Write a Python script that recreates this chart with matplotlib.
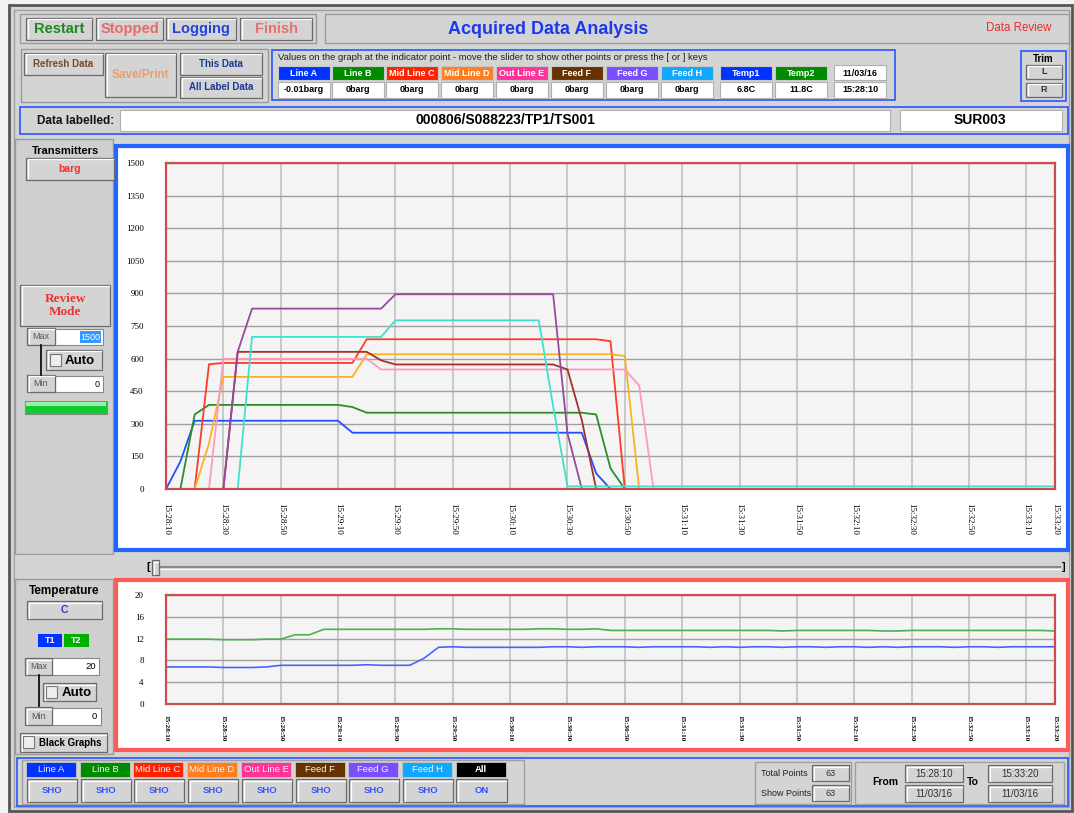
import numpy as np
import matplotlib
matplotlib.use('Agg')
import matplotlib.pyplot as plt
from matplotlib.patches import Rectangle

plt.rcParams['font.family'] = ['Liberation Sans', 'DejaVu Sans']

# ---- data (63 samples, one every 5 s from 15:28:10 to 15:33:20), 10 per row
secs = np.arange(0, 315, 5)

line_a = [0, 126, 314, 314, 314, 314, 314, 314, 314, 314,
          314, 314, 314, 259, 259, 259, 259, 259, 259, 259,
          259, 259, 259, 259, 259, 259, 259, 259, 259, 259,
          72, 0, 0, 0, 0, 0, 0, 0, 0, 0,
          0, 0, 0, 0, 0, 0, 0, 0, 0, 0,
          0, 0, 0, 0, 0, 0, 0, 0, 0, 0,
          0, 0, 0]
line_b = [0, 0, 343, 387, 387, 387, 387, 387, 387, 387,
          387, 387, 387, 377, 351, 351, 351, 351, 351, 351,
          351, 351, 351, 351, 351, 351, 351, 351, 351, 351,
          343, 95, 0, 0, 0, 0, 0, 0, 0, 0,
          0, 0, 0, 0, 0, 0, 0, 0, 0, 0,
          0, 0, 0, 0, 0, 0, 0, 0, 0, 0,
          0, 0, 0]
mid_c = [0, 0, 0, 574, 580, 580, 580, 580, 580, 580,
         580, 580, 580, 580, 689, 689, 689, 689, 689, 689,
         689, 689, 689, 689, 689, 689, 689, 689, 689, 689,
         689, 680, 0, 0, 0, 0, 0, 0, 0, 0,
         0, 0, 0, 0, 0, 0, 0, 0, 0, 0,
         0, 0, 0, 0, 0, 0, 0, 0, 0, 0,
         0, 0, 0]
mid_d = [0, 0, 0, 210, 516, 516, 516, 516, 516, 516,
         516, 516, 516, 516, 620, 620, 620, 620, 620, 620,
         620, 620, 620, 620, 620, 620, 620, 620, 620, 620,
         620, 620, 612, 0, 0, 0, 0, 0, 0, 0,
         0, 0, 0, 0, 0, 0, 0, 0, 0, 0,
         0, 0, 0, 0, 0, 0, 0, 0, 0, 0,
         0, 0, 0]
out_e = [0, 0, 0, 0, 599, 599, 599, 599, 599, 599,
         599, 599, 599, 599, 599, 550, 550, 550, 550, 550,
         550, 550, 550, 550, 550, 550, 550, 550, 550, 550,
         550, 550, 550, 476, 0, 0, 0, 0, 0, 0,
         0, 0, 0, 0, 0, 0, 0, 0, 0, 0,
         0, 0, 0, 0, 0, 0, 0, 0, 0, 0,
         0, 0, 0]
feed_f = [0, 0, 0, 0, 0, 631, 631, 631, 631, 631,
          631, 631, 631, 631, 631, 592, 573, 573, 573, 573,
          573, 573, 573, 573, 573, 573, 573, 573, 550, 317,
          0, 0, 0, 0, 0, 0, 0, 0, 0, 0,
          0, 0, 0, 0, 0, 0, 0, 0, 0, 0,
          0, 0, 0, 0, 0, 0, 0, 0, 0, 0,
          0, 0, 0]
feed_g = [0, 0, 0, 0, 0, 631, 830, 830, 830, 830,
          830, 830, 830, 830, 830, 830, 896, 896, 896, 896,
          896, 896, 896, 896, 896, 896, 896, 896, 256, 0,
          0, 0, 0, 0, 0, 0, 0, 0, 0, 0,
          0, 0, 0, 0, 0, 0, 0, 0, 0, 0,
          0, 0, 0, 0, 0, 0, 0, 0, 0, 0,
          0, 0, 0]
feed_h = [0, 0, 0, 0, 0, 0, 700, 700, 700, 700,
          700, 700, 700, 700, 700, 700, 776, 776, 776, 776,
          776, 776, 776, 776, 776, 776, 776, 380, 12, 12,
          12, 12, 12, 12, 12, 12, 12, 12, 12, 12,
          12, 12, 12, 12, 12, 12, 12, 12, 12, 12,
          12, 12, 12, 12, 12, 12, 12, 12, 12, 12,
          12, 12, 12]

temp1 = [6.8, 6.8, 6.8, 6.8, 6.7, 6.7, 6.7, 6.8, 7.1, 7.1,
         7.1, 7.1, 7.1, 7.1, 7.2, 7.1, 7.1, 7.1, 8.4, 10.4,
         10.5, 10.4, 10.4, 10.4, 10.4, 10.4, 10.4, 10.5, 10.5, 10.4,
         10.5, 10.5, 10.5, 10.4, 10.5, 10.5, 10.5, 10.5, 10.4, 10.5,
         10.4, 10.5, 10.5, 10.4, 10.5, 10.5, 10.4, 10.5, 10.5, 10.4,
         10.5, 10.4, 10.5, 10.5, 10.5, 10.4, 10.5, 10.5, 10.4, 10.5,
         10.5, 10.5, 10.5]
temp2 = [11.9, 11.9, 11.9, 11.9, 11.8, 11.8, 11.8, 11.9, 11.9, 12.7,
         12.7, 13.7, 13.7, 13.7, 13.7, 13.7, 13.7, 13.7, 13.7, 13.8,
         13.8, 13.7, 13.7, 13.7, 13.7, 13.7, 13.8, 13.8, 13.7, 13.7,
         13.8, 13.5, 13.5, 13.5, 13.5, 13.5, 13.5, 13.5, 13.5, 13.5,
         13.5, 13.5, 13.5, 13.4, 13.5, 13.5, 13.5, 13.5, 13.5, 13.5,
         13.4, 13.4, 13.5, 13.5, 13.5, 13.5, 13.5, 13.5, 13.5, 13.5,
         13.5, 13.5, 13.4]

series_names = ['Line A', 'Line B', 'Mid Line C', 'Mid Line D', 'Out Line E', 'Feed F', 'Feed G', 'Feed H']
series = [line_a, line_b, mid_c, mid_d, out_e, feed_f, feed_g, feed_h]
line_colors = ['#2050ff', '#2e8b2e', '#ff3a2a', '#ffb020', '#ff99c0', '#a8302c', '#964a9c', '#40e0d0']
tag_colors = ['#0033ff', '#008a00', '#ff2200', '#ff7f20', '#ff3399', '#663300', '#7a4dff', '#10a8ff']
readings = ['-0.01barg', '0barg', '0barg', '0barg', '0barg', '0barg', '0barg', '0barg']

tick_labels = ['15:28:10', '15:28:30', '15:28:50', '15:29:10', '15:29:30', '15:29:50', '15:30:10',
               '15:30:30', '15:30:50', '15:31:10', '15:31:30', '15:31:50', '15:32:10', '15:32:30',
               '15:32:50', '15:33:10', '15:33:20']
tick_secs = [0, 20, 40, 60, 80, 100, 120, 140, 160, 180, 200, 220, 240, 260, 280, 300, 310]
main_yticks = [0, 150, 300, 450, 600, 750, 900, 1050, 1200, 1350, 1500]
temp_yticks = [0, 4, 8, 12, 16, 20]

W, H = 1074, 813
fig = plt.figure(figsize=(W / 100, H / 100), dpi=100)
fig.patch.set_facecolor('#f2f2f2')

ui = fig.add_axes([0, 0, 1, 1])
ui.set_xlim(0, W)
ui.set_ylim(H, 0)
ui.axis('off')

GREY = '#d4d4d4'


def box(x0, y0, x1, y1, fc=GREY, ec='#8a8a8a', lw=1.0, z=1):
    ui.add_patch(Rectangle((x0, y0), x1 - x0, y1 - y0, facecolor=fc, edgecolor=ec, linewidth=lw, zorder=z))


def button(x0, y0, x1, y1, text='', color='k', size=7, fc=GREY, weight='bold', family=None, z=2):
    box(x0, y0, x1, y1, fc=fc, ec='#6a6a6a', lw=0.9, z=z)
    ui.plot([x0 + 1.5, x0 + 1.5, x1 - 1.5], [y1 - 1.5, y0 + 1.5, y0 + 1.5], color='white', lw=0.9, zorder=z)
    if text:
        kw = {}
        if family:
            kw['family'] = family
        ui.text((x0 + x1) / 2, (y0 + y1) / 2, text, color=color, fontsize=size, fontweight=weight,
                ha='center', va='center', zorder=z + 1, **kw)


def label(x, y, text, size=7, color='k', weight='bold', ha='center', **kw):
    ui.text(x, y, text, fontsize=size, color=color, fontweight=weight, ha=ha, va='center', zorder=5, **kw)


# window frame
box(9, 5, 1072, 811, fc=GREY, ec='#555555', lw=2)
box(14, 10, 1069, 807, fc=GREY, ec='#a0a0a0', lw=1)

# ---- top row
box(20, 14, 316, 43, ec='#9a9a9a')
button(26, 18, 92, 40, 'Restart', '#1a8a1a', 10.5)
button(96, 18, 163, 40, 'Stopped', '#e86a6a', 10.5)
button(166, 18, 236, 40, 'Logging', '#2244dd', 10.5)
button(240, 18, 312, 40, 'Finish', '#e87070', 10.5)
box(325, 14, 1069, 43, ec='#9a9a9a')
label(548, 29, 'Acquired Data Analysis', 13, '#1a3aee')
label(1019, 28, 'Data Review', 8.3, '#ee2a2a', weight='normal')

# ---- second row
box(21, 49, 268, 102, ec='#9a9a9a')
button(24, 53, 103, 75, 'Refresh Data', '#7a4a25', 7)
button(105, 53, 176, 97, 'Save/Print', '#e8a070', 8.5)
button(180, 53, 262, 75, 'This Data', '#1a3a9a', 7)
button(180, 77, 262, 98, 'All Label Data', '#1a3a9a', 7)

box(272, 50, 895, 100, ec='#2a55ff', lw=1.2)
label(278, 58, 'Values on the graph at the indicator point - move the slider to show other points or press the [ or ] keys',
      6.8, '#222222', weight='normal', ha='left')
col_x = [278, 332, 386, 441, 496, 551, 606, 661]
for cx, name, tc, rv in zip(col_x, series_names, tag_colors, readings):
    box(cx, 66, cx + 52, 80, fc=tc, ec='#c8c8c8', lw=0.8)
    label(cx + 26, 73, name, 6.5, 'white')
    box(cx, 82, cx + 52, 98, fc='white', ec='#b0b0b0', lw=0.8)
    label(cx + 26, 90, rv, 6.5, 'k')
for cx, name, tc, rv in [(720, 'Temp1', '#0033ff', '6.8C'), (775, 'Temp2', '#008a00', '11.8C')]:
    box(cx, 66, cx + 52, 80, fc=tc, ec='#c8c8c8', lw=0.8)
    label(cx + 26, 73, name, 6.5, 'white')
    box(cx, 82, cx + 52, 98, fc='white', ec='#b0b0b0', lw=0.8)
    label(cx + 26, 90, rv, 6.5, 'k')
box(834, 65, 886, 80, fc='white', ec='#b0b0b0', lw=0.8)
label(860, 73, '11/03/16', 6.5)
box(834, 82, 886, 98, fc='white', ec='#b0b0b0', lw=0.8)
label(860, 90, '15:28:10', 6.5)

box(1021, 51, 1066, 101, ec='#2a55ff', lw=1.2)
label(1043, 59, 'Trim', 7)
button(1026, 65, 1062, 79, 'L', '#333333', 6.5)
button(1026, 83, 1062, 97, 'R', '#333333', 6.5)

# ---- data labelled row
box(20, 107, 1068, 134, ec='#2a55ff', lw=1.2)
label(76, 121, 'Data labelled:', 8.5, '#111111')
box(120, 110, 890, 131, fc='white', ec='#b0b0b0', lw=0.8)
label(505, 120.5, '000806/S088223/TP1/TS001', 10)
box(900, 110, 1062, 131, fc='white', ec='#b0b0b0', lw=0.8)
label(980, 120.5, 'SUR003', 10)

# ---- transmitter side panel
box(15, 139, 113, 554, fc='#cfcfcf', ec='#9a9a9a')
label(65, 151, 'Transmitters', 8)
button(26, 158, 114, 180, 'barg', '#ee3030', 7.5)
button(20, 285, 110, 326, 'Review\nMode', '#ee3030', 9.5, family='Liberation Serif')
button(27, 328, 55, 345, 'Max', '#555555', 6.5, weight='normal')
box(55, 329, 103, 345, fc='white', ec='#888888', lw=0.8)
box(80, 331, 101, 343, fc='#3399ff', ec='none', z=3)
label(100, 337, '1500', 6.5, 'white', weight='normal', ha='right')
ui.plot([41, 41], [345, 375], color='k', lw=1.2, zorder=3)
button(46, 350, 102, 370, '', z=2)
box(50, 354, 61, 366, fc='#eeeeee', ec='#777777', lw=0.8, z=4)
label(80, 360.5, 'Auto', 9.5)
button(27, 375, 55, 392, 'Min', '#555555', 6.5, weight='normal')
box(55, 376, 103, 392, fc='white', ec='#888888', lw=0.8)
label(100, 384, '0', 6.5, 'k', weight='normal', ha='right')
box(25, 401, 107, 414, fc='#10cc30', ec='#8a8a8a', lw=0.8, z=2)
box(26, 402, 106, 406, fc='#9af0a8', ec='none', z=3)

# chart frames
box(116, 146, 1068, 550, fc='white', ec='#2266ff', lw=3)
box(116, 580, 1068, 750, fc='white', ec='#ff5a55', lw=3)

# ---- slider
box(15, 555, 1069, 577, fc=GREY, ec='none')
ui.plot([158, 1060], [567, 567], color='#8a8a8a', lw=1.5, zorder=2)
ui.plot([158, 1060], [568.5, 568.5], color='white', lw=0.8, zorder=2)
label(148, 567, '[', 8)
label(1064, 567, ']', 8)
button(152, 560, 159, 575, '', z=3)

# ---- temperature side panel
box(15, 579, 113, 754, fc='#cfcfcf', ec='#9a9a9a')
label(64, 591, 'Temperature', 8.5)
button(27, 601, 102, 619, 'C', '#2a3acc', 7.5)
box(38, 634, 62, 647, fc='#0033ff', ec='none')
label(50, 640.5, 'T1', 6.5, 'white')
box(64, 634, 89, 647, fc='#00b000', ec='none')
label(76.5, 640.5, 'T2', 6.5, 'white')
button(25, 658, 52, 675, 'Max', '#555555', 6.5, weight='normal')
box(52, 658, 99, 675, fc='white', ec='#888888', lw=0.8)
label(96, 666.5, '20', 6.8, 'k', weight='normal', ha='right')
ui.plot([39, 39], [675, 706], color='k', lw=1.2, zorder=3)
button(43, 683, 96, 701, '', z=2)
box(46, 686, 57, 698, fc='#eeeeee', ec='#777777', lw=0.8, z=4)
label(77, 692.5, 'Auto', 9.5)
button(25, 707, 52, 725, 'Min', '#555555', 6.5, weight='normal')
box(52, 708, 101, 725, fc='white', ec='#888888', lw=0.8)
label(97, 716.5, '0', 6.8, 'k', weight='normal', ha='right')
button(20, 733, 107, 752, '', z=2)
box(23, 736, 34, 748, fc='#eeeeee', ec='#777777', lw=0.8, z=4)
label(70, 742.5, 'Black Graphs', 7)

# ---- bottom bar
box(17, 758, 1068, 806, ec='#2a55ff', lw=1.2)
box(22, 760, 524, 804, ec='#a0a0a0')
bot_x = [26, 80, 133, 187, 241, 295, 348, 402]
for bx, name, tc in zip(bot_x, series_names, tag_colors):
    box(bx, 762, bx + 50, 777, fc=tc, ec='#c8c8c8', lw=0.6)
    label(bx + 25, 769.5, name, 6.8, '#f4f4f4', weight='normal')
    button(bx + 1, 779, bx + 51, 802, 'SHO', '#3355ff', 6.8)
box(456, 762, 506, 777, fc='black', ec='#c8c8c8', lw=0.6)
label(481, 769.5, 'All', 6.8, 'white')
button(456, 779, 507, 802, 'ON', '#3355ff', 6.8)

box(755, 762, 851, 804, ec='#a0a0a0')
label(761, 773, 'Total Points', 6.5, '#222222', weight='normal', ha='left')
button(812, 765, 849, 781, '63', '#333333', 6.5, weight='normal')
label(761, 793, 'Show Points', 6.5, '#222222', weight='normal', ha='left')
button(812, 785, 849, 801, '63', '#333333', 6.5, weight='normal')

box(855, 762, 1064, 804, ec='#a0a0a0')
label(885, 782, 'From', 7.5)
button(905, 765, 963, 782, '15:28:10', '#333333', 7, weight='normal')
button(905, 785, 963, 802, '11/03/16', '#333333', 7, weight='normal')
label(973, 782, 'To', 7.5)
button(988, 765, 1052, 782, '15:33:20', '#333333', 7, weight='normal')
button(988, 785, 1052, 802, '11/03/16', '#333333', 7, weight='normal')


def px_axes(x0, y0, x1, y1):
    return fig.add_axes([x0 / W, 1 - y1 / H, (x1 - x0) / W, (y1 - y0) / H])


def style_chart(ax, yticks, ylim, xsize, xweight):
    ax.set_facecolor('#f4f4f4')
    ax.set_xlim(0, 310)
    ax.set_ylim(*ylim)
    ax.set_yticks(yticks)
    ax.set_yticklabels([str(v) for v in yticks], family='Liberation Serif', fontsize=6.5)
    ax.set_xticks(tick_secs)
    ax.set_xticklabels(tick_labels, rotation=270, family='Liberation Serif', fontsize=xsize,
                       fontweight=xweight, va='top', ha='center')
    ax.tick_params(length=0)
    ax.tick_params(axis='y', pad=16)
    ax.tick_params(axis='x', pad=10)
    for s in ax.spines.values():
        s.set_color('#cc4b4b')
        s.set_linewidth(1.6)
        s.set_zorder(5)
    for t in tick_secs:
        ax.axvline(t, color='#c8c8c8', lw=1.4, zorder=0.5)
    for v in yticks:
        ax.axhline(v, color='#a0a0a0', lw=1.0, zorder=0.6)


main = px_axes(166, 163, 1055, 489)
style_chart(main, main_yticks, (0, 1500), 6.5, 'normal')
for vals, c in zip(series, line_colors):
    main.plot(secs, vals, color=c, lw=1.3, zorder=2)

temp = px_axes(166, 595, 1055, 704)
style_chart(temp, temp_yticks, (0, 20), 5.2, 'bold')
temp.tick_params(axis='x', pad=8)
temp.plot(secs, temp2, color='#4caf50', lw=1.2, zorder=2)
temp.plot(secs, temp1, color='#4466ff', lw=1.2, zorder=2)

fig.savefig('out.png', dpi=100)
